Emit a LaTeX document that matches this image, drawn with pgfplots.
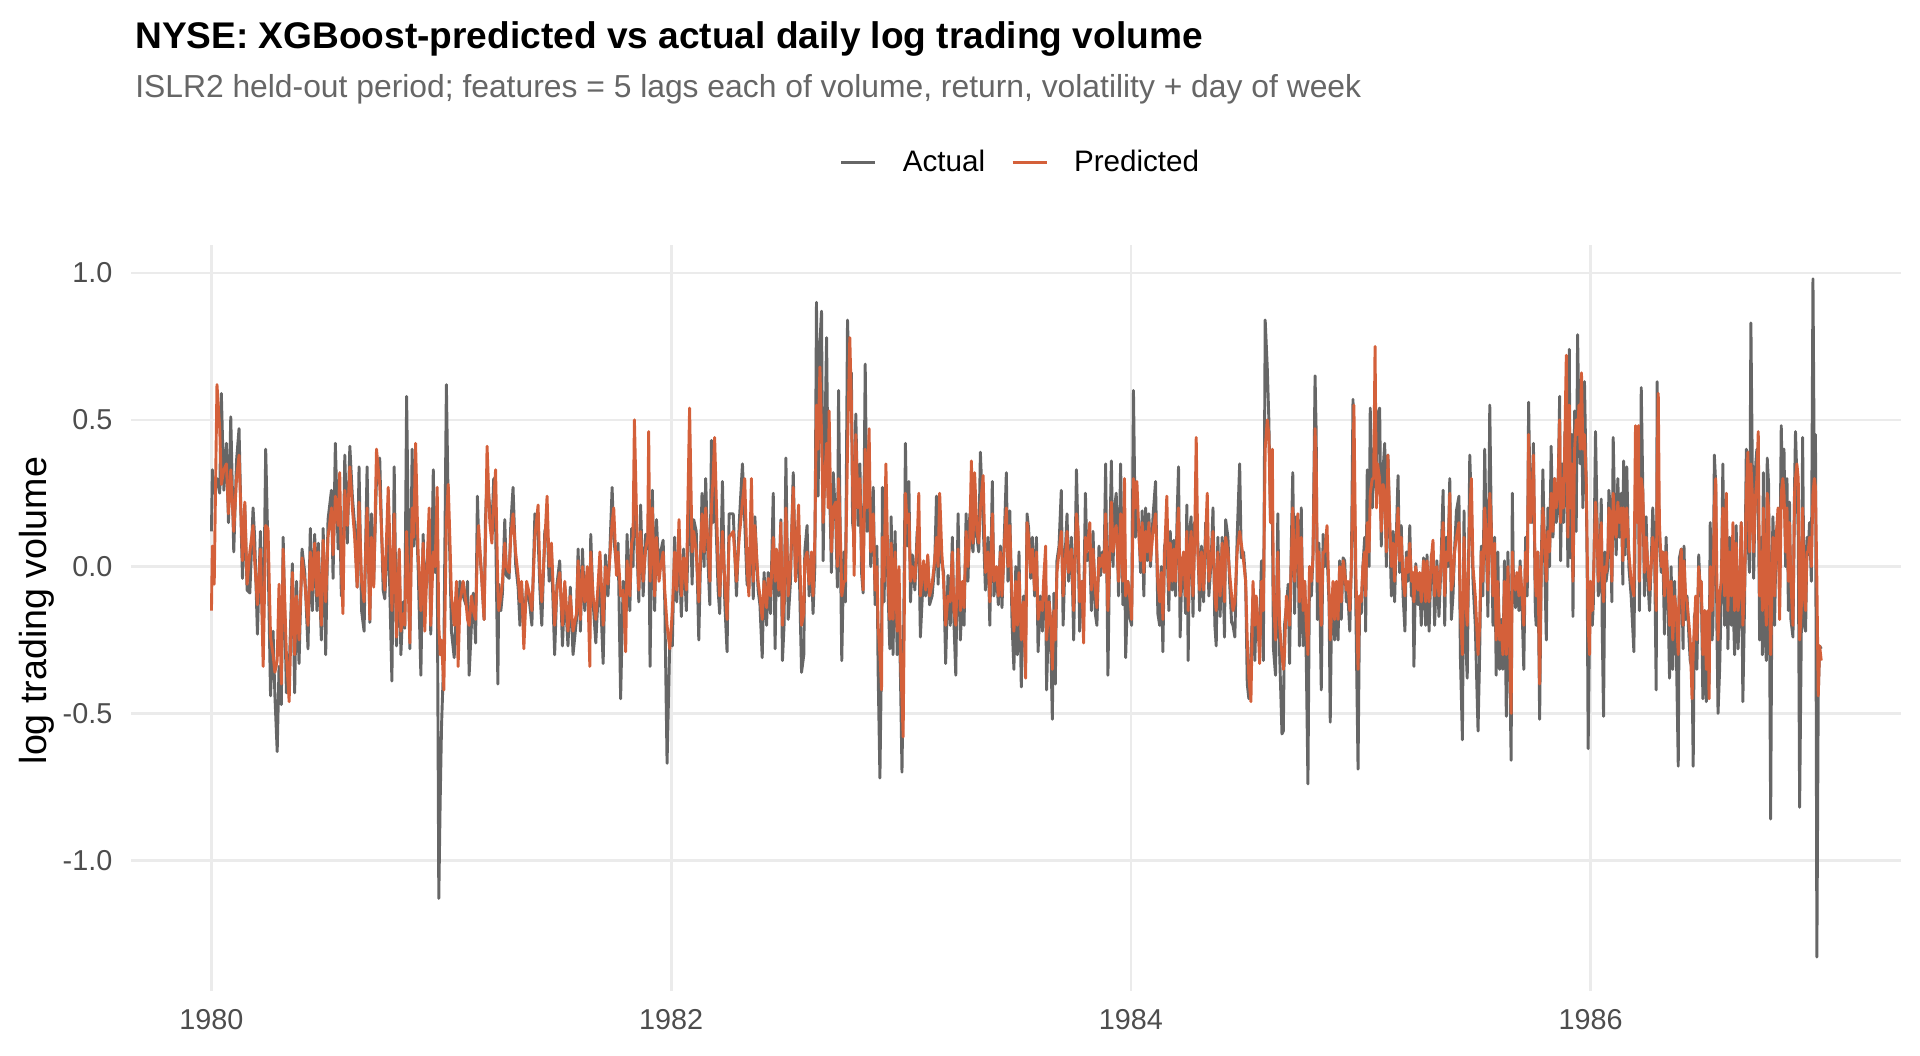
\documentclass[border=0pt]{standalone}
\usepackage{pgfplots}
\pgfplotsset{compat=1.18}
\usepackage{pgfplotstable}
\usepackage{fontspec}
\setmainfont{Liberation Sans}
\definecolor{actualc}{HTML}{666666}
\definecolor{predc}{HTML}{D4603A}
\definecolor{gridc}{HTML}{EBEBEB}
\definecolor{tickc}{HTML}{4D4D4D}
\definecolor{subc}{HTML}{666666}
\pgfplotstableread{
x a p
1980.000 0.12 -0.15
1980.004 0.33 0.07
1980.012 0.25 -0.06
1980.024 0.30 0.62
1980.036 0.25 0.47
1980.043 0.59 0.28
1980.054 0.26 0.33
1980.065 0.42 0.35
1980.074 0.15 0.18
1980.084 0.51 0.33
1980.097 0.05 0.12
1980.109 0.36 0.30
1980.120 0.47 0.38
1980.131 0.08 0.12
1980.135 -0.04 0.02
1980.145 0.21 0.22
1980.155 -0.08 -0.06
1980.167 -0.09 0.05
1980.181 0.20 0.14
1980.188 0.10 0.02
1980.200 -0.23 -0.13
1980.213 0.12 0.06
1980.225 -0.27 -0.34
1980.236 0.40 0.14
1980.246 0.05 0.13
1980.257 -0.44 -0.24
1980.268 -0.22 -0.30
1980.276 -0.44 -0.36
1980.286 -0.63 -0.32
1980.294 -0.34 -0.06
1980.304 -0.47 -0.40
1980.312 0.10 0.06
1980.326 -0.43 -0.30
1980.338 -0.36 -0.46
1980.352 0.01 -0.02
1980.362 -0.43 -0.30
1980.370 -0.05 -0.10
1980.381 -0.33 -0.25
1980.394 0.06 0.03
1980.406 -0.02 -0.05
1980.420 -0.28 -0.20
1980.430 0.13 0.05
1980.439 -0.15 -0.08
1980.449 0.11 0.08
1980.459 -0.15 -0.10
1980.465 0.08 0.05
1980.478 -0.25 -0.20
1980.486 0.13 0.09
1980.497 -0.30 -0.12
1980.507 0.16 0.10
1980.522 0.26 0.20
1980.529 -0.04 0.04
1980.539 0.42 0.24
1980.551 0.06 0.14
1980.558 0.20 0.32
1980.565 -0.10 0.00
1980.572 -0.04 -0.16
1980.580 0.38 0.26
1980.591 0.08 0.14
1980.602 0.41 0.34
1980.613 0.24 0.20
1980.623 0.14 0.10
1980.634 -0.07 -0.07
1980.642 0.34 0.22
1980.653 -0.15 -0.05
1980.664 -0.22 -0.12
1980.677 0.34 0.20
1980.689 -0.19 -0.18
1980.696 0.18 0.10
1980.706 -0.05 -0.07
1980.718 0.30 0.40
1980.732 0.37 0.28
1980.747 -0.08 -0.02
1980.754 -0.11 -0.08
1980.769 0.15 0.27
1980.785 -0.39 -0.15
1980.795 0.34 0.18
1980.805 -0.27 -0.24
1980.817 0.05 0.06
1980.824 -0.30 -0.22
1980.834 -0.12 -0.16
1980.841 -0.21 -0.20
1980.849 0.58 0.12
1980.863 -0.28 -0.26
1980.873 0.40 0.20
1980.880 0.07 0.10
1980.888 0.25 0.42
1980.899 0.00 0.05
1980.911 -0.37 -0.15
1980.921 0.11 0.08
1980.928 -0.12 -0.22
1980.947 0.12 0.20
1980.954 -0.23 -0.20
1980.965 0.33 0.05
1980.973 -0.02 0.00
1980.982 0.05 0.27
1980.989 -1.13 -0.20
1980.995 -0.80 -0.30
1981.001 -0.54 -0.25
1981.011 -0.30 -0.42
1981.022 0.62 0.15
1981.030 0.20 0.28
1981.037 0.04 0.10
1981.044 -0.22 -0.10
1981.056 -0.31 -0.20
1981.066 -0.12 -0.05
1981.073 -0.22 -0.34
1981.081 -0.05 -0.12
1981.095 -0.10 -0.05
1981.107 -0.13 -0.12
1981.114 -0.05 -0.18
1981.121 -0.37 -0.20
1981.131 -0.20 -0.10
1981.139 -0.09 -0.15
1981.149 -0.26 -0.18
1981.157 0.24 0.05
1981.162 0.10 0.14
1981.175 -0.03 -0.03
1981.186 -0.18 -0.18
1981.192 0.16 0.08
1981.199 0.30 0.41
1981.211 0.20 0.15
1981.220 0.13 0.08
1981.228 0.30 0.22
1981.236 0.15 0.33
1981.246 -0.40 -0.08
1981.250 -0.06 -0.15
1981.259 -0.15 -0.10
1981.266 -0.09 -0.05
1981.276 0.16 0.08
1981.283 -0.03 0.00
1981.295 -0.04 -0.02
1981.302 0.14 0.10
1981.312 0.27 0.18
1981.323 0.01 0.05
1981.334 -0.07 -0.03
1981.342 -0.20 -0.12
1981.349 -0.06 -0.05
1981.359 -0.20 -0.28
1981.371 -0.07 -0.05
1981.385 -0.13 -0.10
1981.394 -0.20 -0.15
1981.407 0.18 0.10
1981.421 0.10 0.21
1981.429 -0.08 -0.03
1981.437 -0.20 -0.12
1981.450 0.12 0.08
1981.460 0.15 0.24
1981.469 -0.05 0.00
1981.479 0.05 0.08
1981.493 -0.30 -0.20
1981.503 -0.06 -0.08
1981.515 0.02 -0.02
1981.527 -0.27 -0.20
1981.537 -0.07 -0.05
1981.551 -0.27 -0.22
1981.561 -0.07 -0.10
1981.573 -0.30 -0.22
1981.588 -0.18 -0.16
1981.595 0.06 0.02
1981.605 -0.22 -0.18
1981.614 0.06 0.00
1981.624 -0.15 -0.12
1981.635 -0.02 0.00
1981.646 -0.20 -0.34
1981.650 0.11 0.05
1981.660 -0.12 -0.10
1981.672 -0.26 -0.18
1981.682 -0.10 -0.06
1981.690 -0.05 0.05
1981.704 -0.33 -0.20
1981.714 0.04 0.00
1981.725 -0.10 -0.06
1981.733 0.05 0.03
1981.743 0.27 0.15
1981.750 0.10 0.20
1981.762 0.00 -0.03
1981.769 0.08 0.05
1981.780 -0.45 -0.10
1981.791 -0.05 -0.08
1981.802 -0.15 -0.29
1981.808 0.11 0.02
1981.820 -0.15 -0.10
1981.828 0.13 0.08
1981.834 0.00 0.10
1981.840 0.30 0.50
1981.849 0.12 0.18
1981.859 -0.12 -0.08
1981.867 0.21 0.12
1981.878 -0.10 -0.05
1981.889 0.11 0.06
1981.898 0.06 0.10
1981.902 0.22 0.46
1981.908 -0.34 -0.05
1981.918 0.26 0.20
1981.928 -0.15 -0.10
1981.936 0.16 0.10
1981.947 -0.03 -0.05
1981.954 0.05 0.00
1981.965 0.09 0.05
1981.972 -0.12 -0.08
1981.982 -0.67 -0.20
1981.994 -0.25 -0.28
1982.005 -0.27 -0.15
1982.015 0.10 0.05
1982.024 -0.12 -0.08
1982.034 0.10 0.16
1982.044 -0.17 -0.10
1982.054 0.06 0.03
1982.066 -0.15 -0.08
1982.080 0.30 0.54
1982.091 -0.06 0.05
1982.098 0.16 0.12
1982.109 0.12 0.05
1982.120 -0.25 -0.12
1982.134 0.25 0.18
1982.143 0.00 0.05
1982.150 0.30 0.20
1982.160 0.02 0.08
1982.168 -0.13 -0.05
1982.175 0.43 0.20
1982.182 0.15 0.30
1982.189 0.30 0.44
1982.204 -0.08 0.00
1982.211 -0.16 -0.10
1982.223 0.29 0.12
1982.233 -0.12 -0.05
1982.243 -0.29 -0.18
1982.252 0.18 0.10
1982.270 0.18 0.12
1982.284 -0.10 -0.05
1982.296 0.15 0.10
1982.310 0.35 0.22
1982.320 0.15 0.30
1982.330 -0.06 0.00
1982.338 -0.07 -0.10
1982.349 0.15 0.30
1982.357 -0.11 -0.05
1982.364 0.17 0.14
1982.378 -0.08 -0.05
1982.386 -0.13 -0.10
1982.396 -0.31 -0.18
1982.404 -0.02 -0.05
1982.415 -0.20 -0.14
1982.422 -0.02 -0.04
1982.432 -0.16 -0.10
1982.444 0.25 0.10
1982.452 -0.28 -0.05
1982.458 0.04 0.06
1982.468 -0.10 -0.08
1982.477 0.16 0.15
1982.484 -0.32 -0.20
1982.491 -0.20 -0.12
1982.499 0.37 0.20
1982.509 -0.18 -0.10
1982.519 -0.05 0.00
1982.531 0.32 0.27
1982.541 -0.05 -0.05
1982.554 0.10 0.21
1982.567 -0.36 -0.20
1982.577 -0.30 -0.16
1982.581 0.05 0.02
1982.591 0.14 0.05
1982.600 -0.10 -0.06
1982.610 0.04 0.05
1982.617 -0.16 -0.10
1982.625 0.00 0.10
1982.632 0.90 0.55
1982.639 0.24 0.40
1982.647 0.76 0.68
1982.654 0.87 0.45
1982.661 0.02 0.15
1982.668 0.40 0.30
1982.676 0.78 0.42
1982.683 0.24 0.20
1982.687 0.35 0.53
1982.697 -0.02 0.05
1982.705 0.32 0.20
1982.716 0.15 0.22
1982.723 -0.07 0.00
1982.728 0.60 0.30
1982.738 -0.06 0.05
1982.742 -0.32 -0.10
1982.751 0.05 -0.05
1982.758 -0.12 -0.05
1982.767 0.84 0.40
1982.777 0.55 0.78
1982.784 0.66 0.55
1982.789 0.15 0.30
1982.796 0.10 -0.03
1982.803 0.52 0.45
1982.813 0.14 0.20
1982.821 0.35 0.30
1982.828 -0.02 0.05
1982.835 -0.09 -0.08
1982.844 0.69 0.40
1982.852 0.12 0.20
1982.861 0.35 0.47
1982.868 0.00 0.05
1982.879 0.27 0.18
1982.887 -0.13 -0.08
1982.895 0.07 0.00
1982.900 -0.35 -0.20
1982.908 -0.72 -0.30
1982.915 -0.30 -0.42
1982.919 0.27 0.10
1982.926 -0.12 -0.05
1982.934 0.20 0.35
1982.944 -0.10 -0.05
1982.951 -0.28 -0.18
1982.957 0.17 0.08
1982.965 -0.30 -0.18
1982.974 0.12 0.05
1982.983 -0.30 -0.22
1982.991 -0.10 0.00
1982.999 -0.45 -0.35
1983.004 -0.70 -0.45
1983.009 -0.40 -0.58
1983.019 0.42 0.25
1983.026 0.07 0.15
1983.034 0.29 0.18
1983.041 -0.12 -0.05
1983.049 0.04 0.00
1983.060 -0.08 -0.05
1983.070 0.12 0.08
1983.077 0.10 0.25
1983.084 -0.24 -0.10
1983.098 -0.01 0.02
1983.107 -0.10 -0.08
1983.116 0.03 0.04
1983.124 -0.13 -0.10
1983.135 -0.10 -0.06
1983.146 0.00 0.02
1983.154 0.24 0.10
1983.161 -0.06 0.00
1983.168 0.10 0.25
1983.177 0.02 0.05
1983.185 -0.02 -0.05
1983.194 -0.33 -0.20
1983.204 -0.03 -0.10
1983.214 -0.20 -0.12
1983.223 0.10 0.05
1983.230 -0.19 -0.15
1983.238 -0.37 -0.20
1983.248 0.18 0.06
1983.258 -0.25 -0.15
1983.267 -0.08 -0.05
1983.274 -0.20 -0.14
1983.283 0.18 0.12
1983.291 -0.05 0.00
1983.299 0.18 0.10
1983.306 0.10 0.36
1983.313 0.05 0.08
1983.320 0.20 0.32
1983.330 0.10 0.12
1983.338 0.05 0.08
1983.345 0.39 0.20
1983.357 0.15 0.31
1983.367 -0.08 -0.02
1983.378 0.10 0.05
1983.386 -0.20 -0.12
1983.397 0.29 0.18
1983.404 -0.10 -0.05
1983.415 -0.01 0.00
1983.423 -0.13 -0.10
1983.432 0.07 0.05
1983.439 -0.14 -0.10
1983.451 0.15 0.10
1983.458 0.32 0.20
1983.465 -0.05 0.00
1983.473 0.19 0.14
1983.483 -0.20 -0.12
1983.491 -0.35 -0.22
1983.499 0.00 -0.05
1983.506 -0.30 -0.20
1983.513 0.05 -0.02
1983.523 -0.41 -0.25
1983.533 -0.10 -0.12
1983.542 -0.25 -0.38
1983.548 0.18 0.15
1983.555 0.13 0.10
1983.564 -0.04 -0.02
1983.571 0.10 0.06
1983.581 -0.10 -0.08
1983.589 0.10 0.05
1983.596 -0.29 -0.18
1983.606 -0.10 -0.12
1983.615 -0.22 -0.15
1983.620 -0.10 -0.05
1983.629 -0.05 0.07
1983.633 -0.42 -0.25
1983.644 -0.10 -0.12
1983.651 -0.25 -0.18
1983.658 -0.52 -0.35
1983.665 -0.09 -0.15
1983.671 -0.40 -0.25
1983.678 0.02 -0.02
1983.687 0.07 0.05
1983.697 0.26 0.12
1983.705 -0.20 -0.10
1983.715 0.06 0.03
1983.722 0.18 0.12
1983.729 -0.05 -0.02
1983.741 0.10 0.06
1983.751 -0.25 -0.15
1983.763 0.33 0.18
1983.770 0.10 0.12
1983.777 -0.22 -0.12
1983.787 -0.05 -0.05
1983.794 -0.15 -0.26
1983.802 0.25 0.10
1983.809 0.02 0.05
1983.821 0.05 0.15
1983.828 -0.15 -0.08
1983.835 0.12 0.06
1983.845 -0.16 -0.08
1983.852 -0.20 -0.14
1983.861 0.07 0.03
1983.868 -0.03 0.00
1983.876 0.05 0.04
1983.883 0.00 -0.02
1983.890 0.35 0.18
1983.900 -0.37 -0.15
1983.908 0.08 0.05
1983.915 0.36 0.22
1983.922 0.00 0.05
1983.929 0.20 0.12
1983.936 0.25 0.14
1983.946 -0.10 -0.05
1983.955 0.35 0.18
1983.965 -0.13 -0.05
1983.972 0.10 0.30
1983.977 -0.31 -0.10
1983.987 -0.05 -0.05
1983.997 -0.18 -0.12
1984.003 -0.20 -0.18
1984.011 0.60 0.30
1984.019 0.10 0.20
1984.026 0.20 0.29
1984.035 0.12 0.10
1984.042 -0.02 0.02
1984.049 0.19 0.15
1984.056 -0.10 -0.02
1984.064 0.20 0.12
1984.071 0.02 0.05
1984.078 0.18 0.15
1984.085 0.00 0.02
1984.096 0.17 0.12
1984.107 0.29 0.18
1984.117 -0.16 -0.05
1984.125 -0.20 -0.12
1984.132 0.00 -0.02
1984.139 -0.29 -0.18
1984.146 0.07 0.03
1984.156 0.10 0.24
1984.165 -0.15 -0.08
1984.171 0.12 0.08
1984.180 -0.08 -0.05
1984.187 0.09 0.06
1984.194 -0.10 -0.05
1984.201 0.18 0.12
1984.207 0.34 0.20
1984.214 -0.24 -0.10
1984.223 0.03 0.02
1984.229 0.02 0.05
1984.238 -0.16 -0.10
1984.243 0.21 0.12
1984.249 -0.32 -0.15
1984.255 0.12 0.05
1984.262 0.17 0.12
1984.270 -0.17 -0.10
1984.277 0.15 0.08
1984.284 0.12 0.44
1984.291 0.08 0.05
1984.299 -0.15 -0.08
1984.307 0.07 0.05
1984.316 -0.12 -0.08
1984.325 0.15 0.10
1984.332 0.12 0.25
1984.339 -0.10 -0.05
1984.349 0.02 0.02
1984.357 0.20 0.12
1984.365 -0.20 -0.10
1984.371 -0.27 -0.15
1984.378 0.10 0.05
1984.388 -0.17 -0.10
1984.397 0.10 0.08
1984.407 -0.24 -0.12
1984.412 0.16 0.10
1984.422 0.10 0.05
1984.429 -0.05 -0.02
1984.438 -0.19 -0.10
1984.444 -0.20 -0.15
1984.452 -0.24 -0.12
1984.462 0.10 0.05
1984.473 0.35 0.12
1984.480 0.03 0.08
1984.490 0.05 0.02
1984.499 -0.05 -0.05
1984.506 -0.40 -0.25
1984.513 -0.45 -0.38
1984.522 -0.30 -0.46
1984.531 -0.10 -0.05
1984.539 -0.32 -0.20
1984.545 -0.14 -0.10
1984.552 -0.25 -0.18
1984.560 -0.20 -0.33
1984.568 0.02 -0.05
1984.576 -0.32 -0.15
1984.584 0.84 0.40
1984.593 0.68 0.50
1984.600 0.50 0.45
1984.607 0.17 0.15
1984.615 0.20 0.40
1984.620 -0.28 -0.10
1984.629 -0.37 -0.25
1984.639 0.18 0.05
1984.647 -0.30 -0.20
1984.657 -0.57 -0.30
1984.663 -0.56 -0.35
1984.668 -0.20 -0.30
1984.676 -0.14 -0.10
1984.684 -0.06 -0.15
1984.690 -0.33 -0.20
1984.697 0.05 0.00
1984.704 0.32 0.20
1984.712 -0.16 -0.05
1984.719 0.17 0.05
1984.726 0.16 0.18
1984.733 -0.27 -0.12
1984.741 0.20 0.10
1984.749 -0.27 -0.15
1984.756 -0.05 -0.05
1984.763 -0.33 -0.20
1984.770 -0.74 -0.30
1984.777 0.00 0.00
1984.785 -0.10 -0.05
1984.792 0.04 0.03
1984.801 0.65 0.47
1984.806 0.45 0.35
1984.811 -0.18 -0.05
1984.818 0.08 0.05
1984.828 -0.42 -0.20
1984.836 0.11 0.05
1984.843 0.00 0.05
1984.853 0.05 0.14
1984.862 -0.13 -0.10
1984.867 -0.53 -0.25
1984.873 -0.13 -0.15
1984.879 -0.09 -0.05
1984.886 -0.25 -0.18
1984.894 -0.07 -0.05
1984.901 -0.25 -0.18
1984.908 0.02 0.00
1984.915 -0.18 -0.12
1984.923 0.03 0.02
1984.930 0.02 -0.02
1984.937 -0.12 -0.08
1984.944 -0.10 -0.05
1984.952 -0.22 -0.15
1984.959 0.01 0.00
1984.966 0.57 0.30
1984.970 0.35 0.55
1984.978 -0.12 0.00
1984.988 -0.69 -0.35
1984.995 -0.10 -0.10
1985.002 -0.16 -0.12
1985.009 0.00 0.00
1985.017 0.10 0.05
1985.021 -0.22 -0.10
1985.028 0.33 0.15
1985.036 0.00 0.05
1985.041 0.54 0.25
1985.050 0.20 0.30
1985.056 0.40 0.30
1985.062 0.30 0.75
1985.068 0.25 0.20
1985.073 0.52 0.35
1985.082 0.54 0.30
1985.089 0.07 0.12
1985.097 0.33 0.28
1985.104 0.42 0.25
1985.111 0.00 0.05
1985.118 0.38 0.38
1985.126 0.12 0.15
1985.133 -0.10 0.00
1985.140 0.12 0.08
1985.147 -0.12 -0.05
1985.155 0.12 0.10
1985.162 0.31 0.20
1985.169 -0.02 0.02
1985.176 0.14 0.10
1985.184 -0.10 -0.05
1985.192 -0.22 -0.10
1985.198 0.05 0.03
1985.205 -0.05 -0.02
1985.213 0.14 0.08
1985.220 -0.10 -0.05
1985.227 -0.05 -0.02
1985.231 -0.34 -0.12
1985.239 0.01 0.00
1985.249 -0.13 -0.08
1985.256 -0.05 -0.02
1985.263 -0.20 -0.12
1985.273 0.03 0.02
1985.282 -0.20 -0.12
1985.288 0.04 0.02
1985.297 -0.22 -0.12
1985.307 0.04 0.03
1985.314 0.05 0.09
1985.321 -0.20 -0.10
1985.331 0.02 0.00
1985.340 -0.17 -0.10
1985.347 -0.03 -0.02
1985.358 0.26 0.15
1985.365 -0.20 -0.10
1985.372 0.10 0.05
1985.379 0.00 0.02
1985.387 0.30 0.25
1985.394 -0.18 -0.08
1985.401 -0.10 -0.05
1985.408 0.06 0.05
1985.416 0.19 0.10
1985.427 0.24 0.15
1985.433 -0.30 -0.15
1985.442 -0.59 -0.30
1985.449 0.19 0.10
1985.456 -0.25 -0.12
1985.463 -0.38 -0.20
1985.474 0.38 0.18
1985.481 0.20 0.30
1985.488 -0.05 0.00
1985.498 -0.20 -0.10
1985.510 -0.56 -0.30
1985.517 -0.30 -0.20
1985.524 0.07 0.05
1985.531 -0.10 -0.05
1985.539 0.40 0.20
1985.546 0.08 0.10
1985.553 -0.17 -0.08
1985.561 0.55 0.25
1985.567 0.18 0.15
1985.575 -0.20 -0.10
1985.582 0.10 0.08
1985.589 -0.37 -0.25
1985.596 0.05 -0.05
1985.604 -0.35 -0.25
1985.611 -0.18 -0.20
1985.618 -0.35 -0.30
1985.625 0.02 -0.05
1985.633 -0.51 -0.30
1985.640 0.05 0.00
1985.647 -0.30 -0.25
1985.654 -0.66 -0.50
1985.659 0.25 0.05
1985.664 -0.05 -0.05
1985.673 -0.14 -0.08
1985.679 -0.05 -0.02
1985.688 -0.15 -0.10
1985.693 0.02 0.00
1985.702 -0.15 -0.10
1985.709 -0.35 -0.20
1985.717 0.10 0.05
1985.724 -0.10 -0.05
1985.730 0.56 0.45
1985.737 0.20 0.15
1985.744 0.15 0.20
1985.751 0.42 0.38
1985.759 -0.15 -0.05
1985.763 -0.20 -0.10
1985.770 0.05 0.05
1985.778 -0.52 -0.40
1985.785 0.00 0.00
1985.792 0.33 0.20
1985.799 0.05 0.10
1985.807 -0.25 -0.05
1985.814 0.20 0.12
1985.821 0.00 0.05
1985.828 0.41 0.25
1985.836 0.10 0.12
1985.843 0.30 0.30
1985.850 0.15 0.20
1985.857 0.20 0.25
1985.865 0.58 0.50
1985.869 0.02 0.15
1985.876 0.35 0.30
1985.882 0.15 0.20
1985.888 0.46 0.45
1985.894 0.40 0.72
1985.901 0.00 0.10
1985.907 0.74 0.55
1985.912 0.03 0.20
1985.918 0.45 0.35
1985.923 -0.17 -0.05
1985.930 0.53 0.40
1985.937 0.12 0.50
1985.943 0.79 0.45
1985.949 0.50 0.55
1985.954 0.35 0.40
1985.960 0.55 0.66
1985.966 0.20 0.40
1985.973 0.63 0.45
1985.981 0.27 0.28
1985.985 -0.05 0.05
1985.989 -0.62 -0.20
1985.995 -0.20 -0.30
1985.999 -0.05 -0.05
1986.007 -0.20 -0.15
1986.012 -0.12 -0.05
1986.021 0.46 0.22
1986.027 0.20 0.15
1986.033 -0.10 -0.05
1986.038 -0.05 0.02
1986.046 0.23 0.15
1986.050 -0.20 -0.05
1986.056 -0.51 -0.12
1986.062 0.05 0.00
1986.067 -0.05 -0.02
1986.075 0.00 0.05
1986.079 0.26 0.20
1986.086 0.20 0.18
1986.092 -0.12 -0.05
1986.098 0.44 0.25
1986.104 0.20 0.15
1986.111 0.04 0.10
1986.118 0.30 0.22
1986.125 0.10 0.15
1986.133 0.25 0.20
1986.140 -0.06 0.02
1986.143 0.36 0.20
1986.150 0.04 0.10
1986.157 0.34 0.20
1986.166 0.00 0.05
1986.176 -0.10 -0.05
1986.188 -0.29 -0.10
1986.195 0.25 0.48
1986.202 0.20 0.15
1986.208 0.30 0.48
1986.212 -0.15 -0.05
1986.220 0.61 0.30
1986.227 0.25 0.25
1986.234 -0.10 -0.02
1986.241 0.17 0.10
1986.249 -0.05 0.00
1986.256 -0.15 -0.08
1986.263 0.00 0.00
1986.270 0.20 0.10
1986.278 0.05 0.05
1986.285 -0.42 -0.15
1986.289 0.63 0.30
1986.294 0.30 0.59
1986.299 0.10 0.15
1986.307 -0.02 0.00
1986.314 0.05 0.05
1986.321 -0.23 -0.10
1986.328 0.10 0.05
1986.336 -0.10 -0.05
1986.343 -0.38 -0.20
1986.350 0.00 -0.05
1986.357 -0.35 -0.25
1986.365 -0.05 -0.10
1986.372 -0.25 -0.15
1986.381 -0.68 -0.30
1986.386 0.03 -0.05
1986.394 0.06 0.06
1986.402 -0.28 -0.20
1986.406 0.07 0.02
1986.413 -0.18 -0.10
1986.419 -0.10 -0.12
1986.428 -0.25 -0.20
1986.433 -0.32 -0.25
1986.441 -0.35 -0.45
1986.446 -0.68 -0.30
1986.451 -0.17 -0.20
1986.457 -0.15 -0.10
1986.462 -0.35 -0.25
1986.470 0.04 0.00
1986.477 -0.10 -0.08
1986.481 -0.05 -0.05
1986.488 -0.45 -0.30
1986.496 -0.15 -0.15
1986.503 -0.46 -0.35
1986.510 -0.20 -0.15
1986.515 -0.40 -0.45
1986.520 0.15 0.00
1986.528 -0.25 -0.15
1986.532 -0.20 -0.10
1986.538 0.38 0.20
1986.544 0.28 0.30
1986.549 -0.20 -0.05
1986.554 -0.50 -0.25
1986.561 -0.35 -0.10
1986.568 -0.10 -0.05
1986.575 0.35 0.20
1986.583 -0.20 -0.10
1986.590 0.23 0.25
1986.597 -0.28 -0.15
1986.604 0.10 0.05
1986.612 -0.20 -0.10
1986.619 -0.10 0.15
1986.626 -0.30 -0.15
1986.633 0.14 0.08
1986.641 -0.28 -0.15
1986.648 -0.15 -0.10
1986.655 0.15 0.15
1986.662 -0.46 -0.20
1986.670 -0.10 -0.05
1986.677 0.40 0.25
1986.684 0.10 0.39
1986.691 -0.02 0.05
1986.697 0.83 0.35
1986.703 0.35 0.25
1986.709 -0.04 0.05
1986.718 0.35 0.25
1986.723 0.40 0.30
1986.729 0.25 0.46
1986.735 -0.25 -0.10
1986.742 0.10 0.05
1986.747 -0.30 -0.15
1986.751 0.32 0.20
1986.757 -0.20 -0.05
1986.764 -0.32 -0.20
1986.768 0.37 0.25
1986.774 0.28 0.20
1986.778 -0.20 -0.10
1986.783 -0.86 -0.30
1986.789 0.00 -0.05
1986.793 0.17 0.10
1986.800 -0.20 -0.10
1986.807 0.12 0.10
1986.815 0.15 0.20
1986.822 -0.10 -0.18
1986.829 0.48 0.25
1986.836 0.20 0.30
1986.841 0.40 0.25
1986.848 0.00 0.05
1986.854 0.30 0.20
1986.860 -0.15 -0.05
1986.865 0.22 0.15
1986.871 -0.18 -0.05
1986.880 -0.24 -0.20
1986.887 0.28 0.25
1986.891 0.46 0.30
1986.897 0.30 0.35
1986.903 0.10 0.30
1986.909 -0.82 -0.25
1986.916 -0.25 -0.15
1986.922 0.44 0.20
1986.929 -0.20 -0.10
1986.935 -0.22 -0.15
1986.941 0.10 0.05
1986.946 0.04 0.05
1986.952 0.15 0.10
1986.960 -0.05 0.00
1986.967 0.98 0.25
1986.973 0.30 0.30
1986.978 0.45 0.27
1986.984 -1.33 -0.05
1986.990 -0.44 -0.44
1986.996 -0.27 -0.27
1987.003 -0.28 -0.32
}\nyse
\begin{document}
\begin{tikzpicture}
\useasboundingbox (0,0) rectangle (24.384cm,13.4112cm);
\begin{axis}[
  at={(1.6637cm,0.8255cm)}, anchor=south west,
  scale only axis, width=22.479cm, height=9.474cm,
  xmin=1979.65, xmax=1987.35, ymin=-1.4455, ymax=1.0955,
  axis line style={draw=none}, major tick length=0pt,
  xtick={1980,1982,1984,1986}, xticklabels={1980,1982,1984,1986},
  ytick={-1,-0.5,0,0.5,1}, yticklabels={-1.0,-0.5,0.0,0.5,1.0},
  /pgf/number format/assume math mode=true,
  grid=major, major grid style={line width=0.95pt, color=gridc},
  tick label style={font=\fontsize{10.4}{12}\selectfont, text=tickc, inner sep=0pt},
  xticklabel style={anchor=north, yshift=-0.23cm},
  yticklabel style={anchor=east, xshift=-0.23cm},
  ylabel={log trading volume},
  ylabel style={font=\fontsize{13.6}{16}\selectfont, at={(axis description cs:-0.053,0.51)}, anchor=center},
  legend columns=2,
  legend style={at={(axis description cs:0.502,1.11)}, anchor=center, draw=none, fill=none,
    font=\fontsize{10.7}{13}\selectfont, inner sep=0pt, nodes={inner sep=0pt},
    /tikz/every odd column/.append style={column sep=0.33cm},
    /tikz/every even column/.append style={column sep=0.33cm}},
  legend image code/.code={\draw[#1] (0cm,0cm) -- (0.432cm,0cm);},
]
\addplot[color=actualc, line width=1.05pt, line join=round] table[x=x, y=a] {\nyse};
\addlegendentry{Actual}
\addplot[color=predc, line width=1.05pt, line join=round] table[x=x, y=p] {\nyse};
\addlegendentry{Predicted}
\end{axis}
\node[anchor=base west, inner sep=0pt, font=\fontsize{13.4}{16}\selectfont\bfseries] at (1.711cm,12.80cm) {NYSE: XGBoost-predicted vs actual daily log trading volume};
\node[anchor=base west, inner sep=0pt, font=\fontsize{11.5}{14}\selectfont, text=subc] at (1.711cm,12.17cm) {ISLR2 held-out period; features = 5 lags each of volume, return, volatility + day of week};
\end{tikzpicture}
\end{document}
